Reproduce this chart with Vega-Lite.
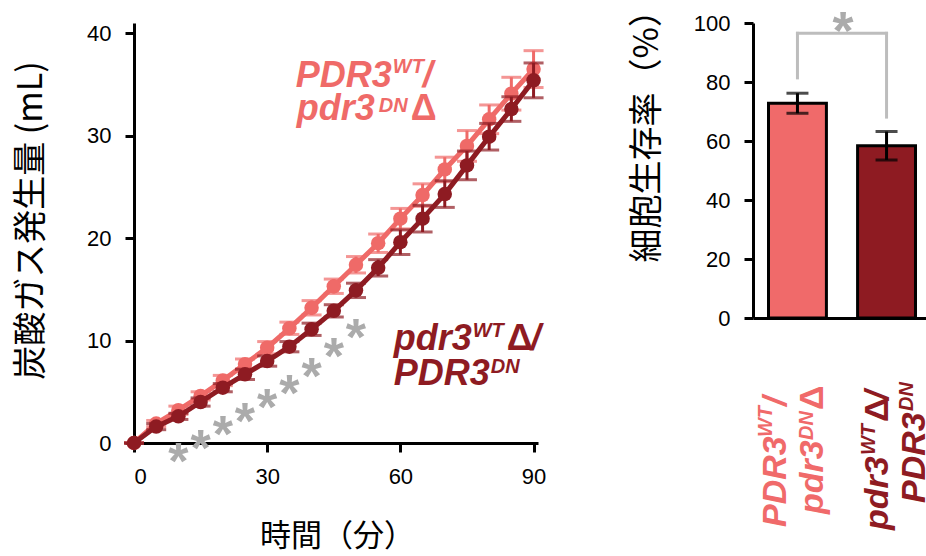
{
  "$schema": "https://vega.github.io/schema/vega-lite/v6.json",
  "padding": {"left": 13, "top": -7, "right": 0, "bottom": 0},
  "bounds": "flush",
  "spacing": 215,
  "config": {
    "view": {"stroke": null},
    "font": "Liberation Sans",
    "axis": {
      "grid": false,
      "domainColor": "black",
      "domainWidth": 3,
      "tickColor": "black",
      "tickWidth": 3,
      "tickSize": 9,
      "labelFont": "Liberation Sans",
      "labelFontSize": 22,
      "labelColor": "black",
      "labelPadding": 14,
      "titleFont": "Noto Sans CJK JP",
      "titleFontSize": 34,
      "titleFontWeight": "normal",
      "titleColor": "black"
    },
    "text": {"fontWeight": "bold", "fontStyle": "italic", "align": "left", "baseline": "alphabetic", "font": "Liberation Sans"}
  },
  "datasets": {
    "gas": [
      {"t": 0, "strain": "a", "y": 0, "err": 0},
      {"t": 5, "strain": "a", "y": 1.9, "err": 0.3},
      {"t": 10, "strain": "a", "y": 3.2, "err": 0.4},
      {"t": 15, "strain": "a", "y": 4.6, "err": 0.4},
      {"t": 20, "strain": "a", "y": 6.1, "err": 0.5},
      {"t": 25, "strain": "a", "y": 7.7, "err": 0.5},
      {"t": 30, "strain": "a", "y": 9.3, "err": 0.6},
      {"t": 35, "strain": "a", "y": 11.2, "err": 0.6},
      {"t": 40, "strain": "a", "y": 13.2, "err": 0.7},
      {"t": 45, "strain": "a", "y": 15.3, "err": 0.7},
      {"t": 50, "strain": "a", "y": 17.4, "err": 0.8},
      {"t": 55, "strain": "a", "y": 19.5, "err": 0.9},
      {"t": 60, "strain": "a", "y": 21.9, "err": 1.0},
      {"t": 65, "strain": "a", "y": 24.2, "err": 1.1},
      {"t": 70, "strain": "a", "y": 26.7, "err": 1.2},
      {"t": 75, "strain": "a", "y": 29.0, "err": 1.5},
      {"t": 80, "strain": "a", "y": 31.6, "err": 1.4},
      {"t": 85, "strain": "a", "y": 34.1, "err": 1.6},
      {"t": 90, "strain": "a", "y": 36.5, "err": 1.8},
      {"t": 0, "strain": "b", "y": 0, "err": 0},
      {"t": 5, "strain": "b", "y": 1.6, "err": 0.3},
      {"t": 10, "strain": "b", "y": 2.6, "err": 0.3},
      {"t": 15, "strain": "b", "y": 4.0, "err": 0.4},
      {"t": 20, "strain": "b", "y": 5.4, "err": 0.4},
      {"t": 25, "strain": "b", "y": 6.7, "err": 0.5},
      {"t": 30, "strain": "b", "y": 8.0, "err": 0.5},
      {"t": 35, "strain": "b", "y": 9.4, "err": 0.5},
      {"t": 40, "strain": "b", "y": 11.1, "err": 0.6},
      {"t": 45, "strain": "b", "y": 12.9, "err": 0.6},
      {"t": 50, "strain": "b", "y": 14.9, "err": 0.7},
      {"t": 55, "strain": "b", "y": 17.1, "err": 0.8},
      {"t": 60, "strain": "b", "y": 19.6, "err": 1.2},
      {"t": 65, "strain": "b", "y": 21.9, "err": 1.3},
      {"t": 70, "strain": "b", "y": 24.3, "err": 1.3},
      {"t": 75, "strain": "b", "y": 27.1, "err": 1.4},
      {"t": 80, "strain": "b", "y": 29.9, "err": 1.3},
      {"t": 85, "strain": "b", "y": 32.6, "err": 1.2},
      {"t": 90, "strain": "b", "y": 35.4, "err": 1.7}
    ],
    "stars": [
      {"t": 10, "y": -0.68},
      {"t": 15, "y": 0.62},
      {"t": 20, "y": 1.92},
      {"t": 25, "y": 3.22},
      {"t": 30, "y": 4.54},
      {"t": 35, "y": 6.0},
      {"t": 40, "y": 7.6},
      {"t": 45, "y": 9.6},
      {"t": 50, "y": 11.4}
    ],
    "surv": [
      {"strain": "a", "y": 72.8, "err": 3.4},
      {"strain": "b", "y": 58.4, "err": 4.8}
    ],
    "one": [{}]
  },
  "hconcat": [
    {
      "width": 404,
      "height": 420,
      "layer": [
        {"data": {"name": "gas"},
         "transform": [{"filter": "datum.strain === 'a'"}],
         "mark": {"type": "line", "color": "#EF6A68", "strokeWidth": 5},
         "encoding": {
           "x": {"field": "t", "type": "quantitative", "scale": {"domain": [0, 91], "nice": false}, "title": "時間（分）",
                 "axis": {"values": [0, 30, 60, 90], "titleFontSize": 31,
                          "titleX": 203, "titleY": 93, "titleBaseline": "middle", "titleAlign": "center"}},
           "y": {"field": "y", "type": "quantitative", "scale": {"domain": [0, 41], "nice": false}, "title": "炭酸ガス発生量 (mL)",
                 "axis": {"values": [0, 10, 20, 30, 40],
                          "titleX": -103, "titleY": 197, "titleBaseline": "middle", "titleAlign": "center", "titleAngle": -90}}
         }},
        {"data": {"name": "stars"},
         "mark": {"type": "text", "text": "*", "fontStyle": "normal", "fontSize": 52, "color": "#ABABAB", "align": "center", "dy": 29},
         "encoding": {
           "x": {"field": "t", "type": "quantitative", "title": "時間（分）"},
           "y": {"field": "y", "type": "quantitative", "title": "炭酸ガス発生量 (mL)"}
         }},
        {"data": {"name": "gas"},
         "transform": [{"filter": "datum.strain === 'a'"}],
         "mark": {"type": "errorbar", "color": "#EF6A68", "thickness": 3, "size": 20, "ticks": true},
         "encoding": {
           "x": {"field": "t", "type": "quantitative", "title": "時間（分）"},
           "y": {"field": "y", "type": "quantitative", "title": "炭酸ガス発生量 (mL)"},
           "yError": {"field": "err"}
         }},
        {"data": {"name": "gas"},
         "transform": [{"filter": "datum.strain === 'a'"}],
         "mark": {"type": "circle", "color": "#EF6A68", "size": 210, "opacity": 1},
         "encoding": {
           "x": {"field": "t", "type": "quantitative", "title": "時間（分）"},
           "y": {"field": "y", "type": "quantitative", "title": "炭酸ガス発生量 (mL)"}
         }},
        {"data": {"name": "gas"},
         "transform": [{"filter": "datum.strain === 'b'"}],
         "mark": {"type": "errorbar", "color": "#8E1B22", "thickness": 3, "size": 20, "ticks": true},
         "encoding": {
           "x": {"field": "t", "type": "quantitative", "title": "時間（分）"},
           "y": {"field": "y", "type": "quantitative", "title": "炭酸ガス発生量 (mL)"},
           "yError": {"field": "err"}
         }},
        {"data": {"name": "gas"},
         "transform": [{"filter": "datum.strain === 'b'"}],
         "mark": {"type": "line", "color": "#8E1B22", "strokeWidth": 5},
         "encoding": {
           "x": {"field": "t", "type": "quantitative", "title": "時間（分）"},
           "y": {"field": "y", "type": "quantitative", "title": "炭酸ガス発生量 (mL)"}
         }},
        {"data": {"name": "gas"},
         "transform": [{"filter": "datum.strain === 'b'"}],
         "mark": {"type": "circle", "color": "#8E1B22", "size": 210, "opacity": 1},
         "encoding": {
           "x": {"field": "t", "type": "quantitative", "title": "時間（分）"},
           "y": {"field": "y", "type": "quantitative", "title": "炭酸ガス発生量 (mL)"}
         }},
        {"data": {"name": "one"},
         "encoding": {
           "x": {"datum": 36.45, "type": "quantitative", "title": "時間（分）"},
           "y": {"datum": 34.75, "type": "quantitative", "title": "炭酸ガス発生量 (mL)"}
         },
         "layer": [
           {"mark": {"type": "text", "text": "PDR3", "fontSize": 36, "color": "#EF6A68", "dx": 0, "dy": 0}},
           {"mark": {"type": "text", "text": "WT", "fontSize": 20, "color": "#EF6A68", "dx": 97, "dy": -14}},
           {"mark": {"type": "text", "text": "/", "fontSize": 36, "color": "#EF6A68", "dx": 127, "dy": 0}},
           {"mark": {"type": "text", "text": "pdr3", "fontSize": 36, "color": "#EF6A68", "dx": 1, "dy": 33}},
           {"mark": {"type": "text", "text": "DN", "fontSize": 20, "color": "#EF6A68", "dx": 83, "dy": 25}},
           {"mark": {"type": "text", "text": "Δ", "fontSize": 36, "fontStyle": "normal", "color": "#EF6A68", "dx": 115, "dy": 33}}
         ]},
        {"data": {"name": "one"},
         "encoding": {
           "x": {"datum": 58.5, "type": "quantitative", "title": "時間（分）"},
           "y": {"datum": 9.08, "type": "quantitative", "title": "炭酸ガス発生量 (mL)"}
         },
         "layer": [
           {"mark": {"type": "text", "text": "pdr3", "fontSize": 36, "color": "#8E1B22", "dx": 0, "dy": 0}},
           {"mark": {"type": "text", "text": "WT", "fontSize": 20, "color": "#8E1B22", "dx": 79, "dy": -13}},
           {"mark": {"type": "text", "text": "Δ", "fontSize": 36, "fontStyle": "normal", "color": "#8E1B22", "dx": 113, "dy": 0}},
           {"mark": {"type": "text", "text": "/", "fontSize": 36, "color": "#8E1B22", "dx": 137, "dy": 0}},
           {"mark": {"type": "text", "text": "PDR3", "fontSize": 36, "color": "#8E1B22", "dx": 0, "dy": 35}},
           {"mark": {"type": "text", "text": "DN", "fontSize": 20, "color": "#8E1B22", "dx": 97, "dy": 23}}
         ]}
      ]
    },
    {
      "width": 178,
      "height": 295,
      "layer": [
        {"data": {"name": "surv"},
         "mark": {"type": "bar", "stroke": "black", "strokeWidth": 3},
         "encoding": {
           "x": {"field": "strain", "type": "nominal", "scale": {"domain": ["a", "b"], "paddingInner": 0.35, "paddingOuter": 0.174}, "title": null,
                 "axis": {"labels": false, "ticks": false}},
           "y": {"field": "y", "type": "quantitative", "scale": {"domain": [0, 100], "nice": false}, "title": null,
                 "axis": {"values": [0, 20, 40, 60, 80, 100]}},
           "color": {"field": "strain", "type": "nominal", "scale": {"domain": ["a", "b"], "range": ["#F06A6A", "#8E1B22"]}, "legend": null}
         }},
        {"data": {"name": "surv"},
         "mark": {"type": "errorbar", "color": "black", "thickness": 3, "size": 22, "ticks": true},
         "encoding": {
           "x": {"field": "strain", "type": "nominal", "title": null},
           "y": {"field": "y", "type": "quantitative", "title": null},
           "yError": {"field": "err"}
         }},
        {"data": {"name": "one"},
         "mark": {"type": "rule", "color": "#BDBDBD", "strokeWidth": 3, "strokeCap": "square"},
         "encoding": {
           "x": {"datum": "a", "type": "nominal", "title": null},
           "y": {"datum": 81.4, "type": "quantitative", "title": null},
           "y2": {"datum": 96.5}
         }},
        {"data": {"name": "one"},
         "mark": {"type": "rule", "color": "#BDBDBD", "strokeWidth": 3, "strokeCap": "square"},
         "encoding": {
           "x": {"datum": "a", "type": "nominal", "title": null},
           "x2": {"datum": "b"},
           "y": {"datum": 96.5, "type": "quantitative", "title": null}
         }},
        {"data": {"name": "one"},
         "mark": {"type": "rule", "color": "#BDBDBD", "strokeWidth": 3, "strokeCap": "square"},
         "encoding": {
           "x": {"datum": "b", "type": "nominal", "title": null},
           "y": {"datum": 68.1, "type": "quantitative", "title": null},
           "y2": {"datum": 96.5}
         }},
        {"data": {"name": "one"},
         "mark": {"type": "text", "text": "*", "fontStyle": "normal", "fontSize": 54, "color": "#ABABAB", "align": "center", "dx": 45.5, "dy": 30},
         "encoding": {
           "x": {"datum": "a", "type": "nominal", "title": null},
           "y": {"datum": 101.2, "type": "quantitative", "title": null}
         }},
        {"data": {"name": "one"},
         "mark": {"type": "text", "text": "細胞生存率（%）", "font": "Noto Sans CJK JP", "fontSize": 34, "fontWeight": "normal", "fontStyle": "normal",
                  "color": "black", "angle": 270, "align": "center", "baseline": "middle", "dy": -149},
         "encoding": {
           "x": {"datum": "a", "type": "nominal", "title": null},
           "y": {"datum": 64.5, "type": "quantitative", "title": null}
         }},
        {"data": {"name": "one"},
         "encoding": {
           "x": {"datum": "a", "type": "nominal", "title": null},
           "y": {"datum": -70.85, "type": "quantitative", "title": null}
         },
         "layer": [
           {"mark": {"type": "text", "text": "PDR3", "angle": 270, "fontSize": 34, "color": "#F06A6A", "dx": 0, "dy": -11.5}},
           {"mark": {"type": "text", "text": "WT", "angle": 270, "fontSize": 20, "color": "#F06A6A", "dx": 90, "dy": -25.5}},
           {"mark": {"type": "text", "text": "/", "angle": 270, "fontSize": 34, "color": "#F06A6A", "dx": 121, "dy": -11.5}},
           {"mark": {"type": "text", "text": "pdr3", "angle": 270, "fontSize": 34, "color": "#F06A6A", "dx": 13, "dy": 25.5}},
           {"mark": {"type": "text", "text": "DN", "angle": 270, "fontSize": 20, "color": "#F06A6A", "dx": 87, "dy": 15.5}},
           {"mark": {"type": "text", "text": "Δ", "angle": 270, "fontSize": 34, "fontStyle": "normal", "color": "#F06A6A", "dx": 117, "dy": 25.5}}
         ]},
        {"data": {"name": "one"},
         "encoding": {
           "x": {"datum": "b", "type": "nominal", "title": null},
           "y": {"datum": -70.85, "type": "quantitative", "title": null}
         },
         "layer": [
           {"mark": {"type": "text", "text": "pdr3", "angle": 270, "fontSize": 34, "color": "#8E1B22", "dx": -3, "dy": 1.5}},
           {"mark": {"type": "text", "text": "WT", "angle": 270, "fontSize": 20, "color": "#8E1B22", "dx": 72, "dy": -12}},
           {"mark": {"type": "text", "text": "Δ", "angle": 270, "fontSize": 34, "fontStyle": "normal", "color": "#8E1B22", "dx": 105, "dy": 1.5}},
           {"mark": {"type": "text", "text": "/", "angle": 270, "fontSize": 34, "color": "#8E1B22", "dx": 127, "dy": 1.5}},
           {"mark": {"type": "text", "text": "PDR3", "angle": 270, "fontSize": 34, "color": "#8E1B22", "dx": 24, "dy": 38}},
           {"mark": {"type": "text", "text": "DN", "angle": 270, "fontSize": 20, "color": "#8E1B22", "dx": 116, "dy": 26}}
         ]}
      ]
    }
  ]
}
